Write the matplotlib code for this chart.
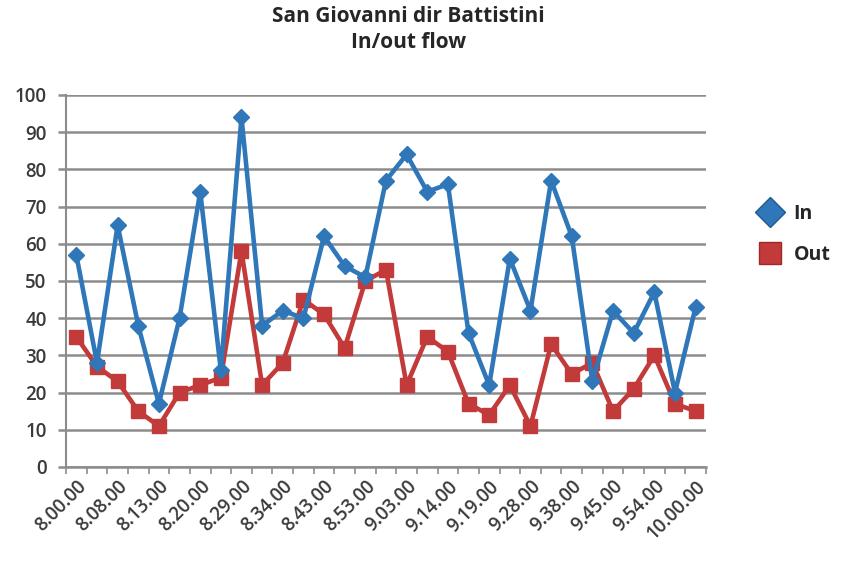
import numpy as np
import matplotlib
matplotlib.use('Agg')
import matplotlib.pyplot as plt
from matplotlib.lines import Line2D

# times for each sample (only every other one is labelled on the axis)
times = ['8.00.00', '', '8.08.00', '', '8.13.00', '', '8.20.00', '', '8.29.00', '',
         '8.34.00', '', '8.43.00', '', '8.53.00', '', '9.03.00', '', '9.14.00', '',
         '9.19.00', '', '9.28.00', '', '9.38.00', '', '9.45.00', '', '9.54.00', '',
         '10.00.00']
flow_in = [57, 28, 65, 38, 17, 40, 74, 26, 94, 38, 42, 40, 62, 54, 51, 77,
           84, 74, 76, 36, 22, 56, 42, 77, 62, 23, 42, 36, 47, 20, 43]
flow_out = [35, 27, 23, 15, 11, 20, 22, 24, 58, 22, 28, 45, 41, 32, 50, 53,
            22, 35, 31, 17, 14, 22, 11, 33, 25, 28, 15, 21, 30, 17, 15]

blue = '#2f77b8'
red = '#c23a3a'
grid_col = '#8c8c8c'
text_col = '#3a3a3a'

plt.rcParams['font.family'] = ['Open Sans', 'DejaVu Sans']

fig = plt.figure(figsize=(8.42, 5.61), dpi=100)
ax = fig.add_axes([0.0784, 0.1676, 0.76, 0.6631])

x = np.arange(len(flow_in))
ax.plot(x, flow_out, color=red, lw=3.3, marker='s', ms=10, label='Out', zorder=3)
ax.plot(x, flow_in, color=blue, lw=3.3, marker='D', ms=8.5, label='In', zorder=4)

ax.set_xlim(-0.5, len(x) - 0.5)
ax.set_ylim(0, 100)
ax.set_yticks(range(0, 101, 10))
ax.yaxis.grid(True, color=grid_col, lw=1.8)
ax.set_axisbelow(True)

# labels on every other category, tick marks between categories
ax.set_xticks(x[::2])
ax.set_xticklabels(times[::2], rotation=45, ha='right', rotation_mode='anchor')
ax.set_xticks(np.arange(-0.5, len(x), 1), minor=True)
ax.tick_params(axis='x', which='major', length=0, pad=7)
ax.tick_params(axis='x', which='minor', length=5, width=1.2, color=grid_col)
ax.tick_params(axis='y', length=6, width=1.8, color=grid_col, pad=8)
for lab in ax.get_xticklabels() + ax.get_yticklabels():
    lab.set_fontsize(13.5)
    lab.set_fontweight('semibold')
    lab.set_color(text_col)

for s in ['top', 'right']:
    ax.spines[s].set_visible(False)
ax.spines['left'].set_color(grid_col)
ax.spines['left'].set_linewidth(1.5)
ax.spines['bottom'].set_color(grid_col)
ax.spines['bottom'].set_linewidth(1.8)

fig.text(0.485, 0.948, 'San Giovanni dir Battistini\nIn/out flow', ha='center', va='center',
         fontsize=15, fontweight='bold', color='#262626', linespacing=1.3)

handles = [Line2D([], [], ls='none', marker='D', ms=15, color=blue, mec='#1f5a8f'),
           Line2D([], [], ls='none', marker='s', ms=16, color=red, mec='#a02828')]
leg = fig.legend(handles, ['In', 'Out'], loc='center left', bbox_to_anchor=(0.903, 0.582),
                 frameon=False, handlelength=1.0, handletextpad=0.7, labelspacing=1.1,
                 prop={'size': 14, 'weight': 'bold'}, borderaxespad=0, borderpad=0)
for t in leg.get_texts():
    t.set_color('#262626')

fig.savefig('out.png', dpi=100)
